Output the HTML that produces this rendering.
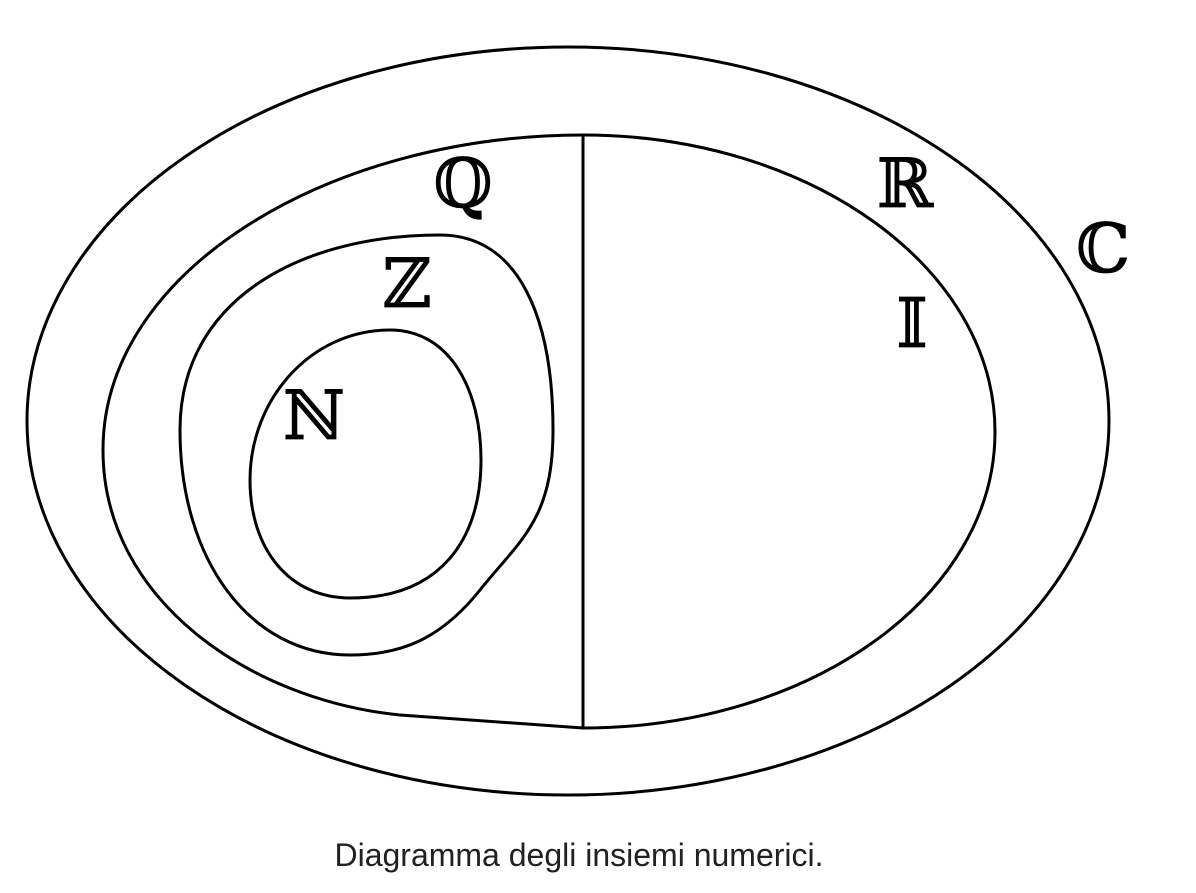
<!DOCTYPE html>
<html><head><meta charset="utf-8"><style>
html,body{margin:0;padding:0;background:#fff;width:1196px;height:893px;overflow:hidden}
svg{position:absolute;left:0;top:0}
.cap{position:absolute;left:0;width:1158px;top:837px;text-align:center;font-family:"Liberation Sans",sans-serif;font-size:32px;color:#202122}
</style></head><body>
<svg width="1196" height="893" viewBox="0 0 1196 893">
<g fill="none" stroke="#000" stroke-width="3">
<ellipse cx="568" cy="421" rx="541" ry="374"/>
<path d="M583,135 C810,135 995,268 995,432 C995,596 810,728 583,728"/>
<path d="M583,135 C330,135 103,270 103,450 C103,600 250,700 400,715 C470,720 540,725 583,728"/>
<line x1="583" y1="135" x2="583" y2="728"/>
<path d="M440,235 C520,235 553,320 553,430 C553,520 520,540 480,590 C440,640 400,655 350,655 C250,655 180,560 180,430 C180,300 300,235 440,235 Z"/>
<path d="M390,330 C450,330 481,390 481,460 C481,540 440,598 350,598 C290,598 250,550 250,480 C250,400 310,330 390,330 Z"/>
</g>
<g font-family="DejaVu Serif, DejaVu Sans, serif" font-size="68" text-anchor="middle" fill="#000" stroke="#000" stroke-width="0.8">
<text x="463" y="207">ℚ</text>
<text x="407" y="307">ℤ</text>
<text x="314" y="439">ℕ</text>
<text x="905" y="207">ℝ</text>
<text x="912" y="347">𝕀</text>
<text x="1103" y="272">ℂ</text>
</g>
</svg>
<div class="cap">Diagramma degli insiemi numerici.</div>
</body></html>
